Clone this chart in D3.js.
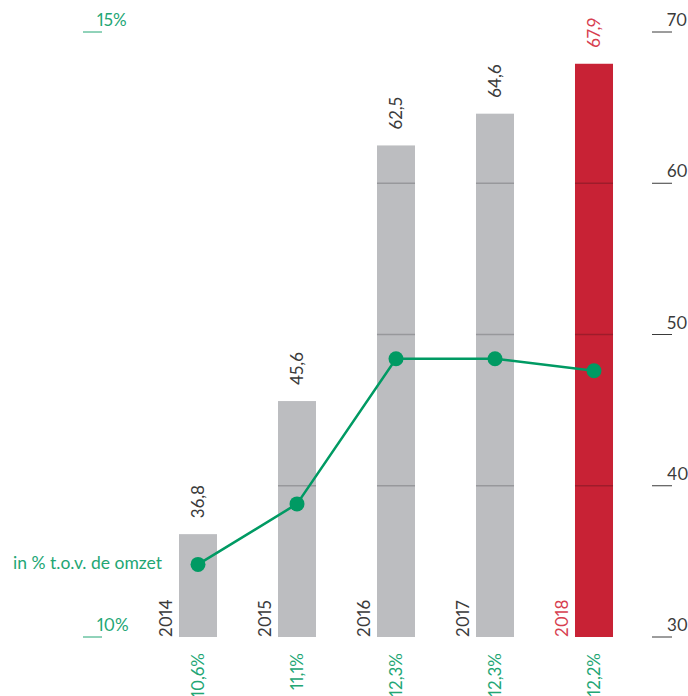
<!DOCTYPE html>
<html><head><meta charset="utf-8">
<script src="https://cdn.jsdelivr.net/npm/d3@7"></script>
<style>body{margin:0;background:#fff}svg{display:block}text{font-family:Lato,"Open Sans",sans-serif;font-weight:400;font-variant-numeric:proportional-nums;font-feature-settings:"pnum" 1}</style>
</head><body><svg id="c" width="688" height="696"></svg>
<script>
const years = ["2014","2015","2016","2017","2018"];
const values = [36.8, 45.6, 62.5, 64.6, 67.9];
const valueLabels = ["36,8","45,6","62,5","64,6","67,9"];
const pct = [10.6, 11.1, 12.3, 12.3, 12.2];
const pctLabels = ["10,6%","11,1%","12,3%","12,3%","12,2%"];
const rightTicks = [30,40,50,60,70];
const leftTicks = [10,15];
const leftTickLabels = ["10%","15%"];
const lineLabel = "in % t.o.v. de omzet";

const svg = d3.select("#c");
const x = d3.scaleBand().domain(years).range([148.5,643.5]).paddingInner(0.616).paddingOuter(0.308);
const yR = d3.scaleLinear().domain([30,70]).range([637,32]);
const yL = d3.scaleLinear().domain([10,15]).range([637,32]);
const hl = i => i === years.length-1;
const green = "#009a63", greenText = "#22a674", dark = "#3a3a3a";

// bars
const bars = svg.append("g");
years.forEach((yr,i)=>{
  bars.append("rect").attr("x",x(yr)).attr("width",x.bandwidth())
    .attr("y",yR(values[i])).attr("height",yR(30)-yR(values[i]))
    .attr("fill",hl(i)?"#c82235":"#bcbdc0");
  [40,50,60].filter(t=>t<values[i]).forEach(t=>{
    bars.append("line").attr("x1",x(yr)).attr("x2",x(yr)+x.bandwidth())
      .attr("y1",yR(t)).attr("y2",yR(t))
      .attr("stroke",hl(i)?"#9e1c2b":"#97989b").attr("stroke-width",1.3);
  });
  const cx = x(yr)+x.bandwidth()/2;
  svg.append("text").attr("transform",`translate(${cx+6},${yR(values[i])-16}) rotate(-90)`)
    .attr("text-anchor","start").attr("font-size",17)
    .attr("fill",hl(i)?"#d7404f":dark).text(valueLabels[i]);
  svg.append("text").attr("transform",`translate(${x(yr)-7},${yR(30)}) rotate(-90)`)
    .attr("text-anchor","start").attr("font-size",17)
    .attr("fill",hl(i)?"#d7404f":dark).text(yr);
  svg.append("text").attr("transform",`translate(${cx+6},653) rotate(-90)`)
    .attr("text-anchor","end").attr("font-size",17)
    .attr("fill",greenText).text(pctLabels[i]);
});

// right axis
rightTicks.forEach(t=>{
  svg.append("line").attr("x1",652).attr("x2",672).attr("y1",yR(t)).attr("y2",yR(t)).attr("stroke",dark).attr("stroke-width",1);
  svg.append("text").attr("x",667).attr("y",yR(t)-6).attr("font-size",17).attr("fill",dark).text(t);
});
// left axis
leftTicks.forEach((t,i)=>{
  svg.append("line").attr("x1",83).attr("x2",102).attr("y1",yL(t)).attr("y2",yL(t)).attr("stroke",greenText).attr("stroke-width",1);
  svg.append("text").attr("x",97).attr("y",yL(t)-6).attr("font-size",17).attr("fill",greenText).text(leftTickLabels[i]);
});

// line
const line = d3.line().x((d,i)=>x(years[i])+x.bandwidth()/2).y(d=>yL(d));
svg.append("path").attr("d",line(pct)).attr("fill","none").attr("stroke",green).attr("stroke-width",2.5);
svg.selectAll("circle.p").data(pct).join("circle").attr("cx",(d,i)=>x(years[i])+x.bandwidth()/2).attr("cy",d=>yL(d)).attr("r",7.5).attr("fill",green);
svg.append("text").attr("x",162).attr("y",yL(pct[0])+5).attr("text-anchor","end").attr("font-size",17.5).attr("fill",greenText).text(lineLabel);
</script></body></html>
